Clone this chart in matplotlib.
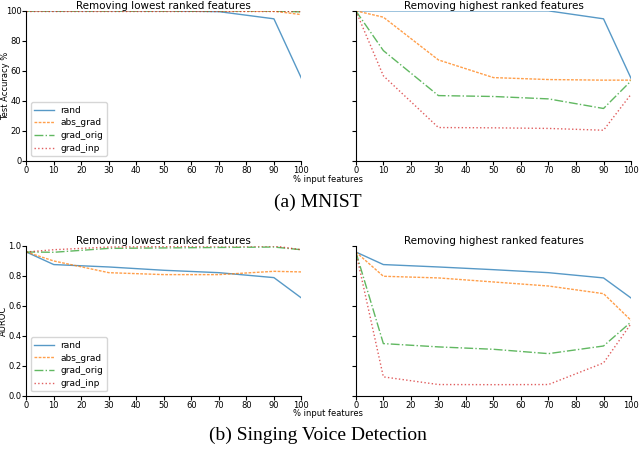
import matplotlib.pyplot as plt

# x positions (% input features removed)
pct = [0, 10, 30, 50, 70, 90, 100]
methods = ["rand", "abs_grad", "grad_orig", "grad_inp"]

# MNIST test accuracy (%)
mnist_low_rand = [100, 100, 100, 100, 99.5, 94.7, 55.0]
mnist_low_abs = [100, 100, 100, 100, 100, 99.8, 97.5]
mnist_low_orig = [100, 100, 100, 100, 100, 100, 99.3]
mnist_low_inp = [100, 100, 100, 100, 100, 100, 100]

mnist_high_rand = [100, 100, 100, 100, 100, 94.7, 55.0]
mnist_high_abs = [100, 95.8, 67.3, 55.5, 54.2, 53.8, 53.8]
mnist_high_orig = [100, 73.5, 43.5, 42.9, 41.3, 34.9, 53.3]
mnist_high_inp = [100, 56.7, 22.2, 22.0, 21.6, 20.4, 44.4]

# Singing voice detection AUROC
svd_low_rand = [0.96, 0.876, 0.86, 0.838, 0.822, 0.789, 0.653]
svd_low_abs = [0.96, 0.90, 0.822, 0.809, 0.809, 0.831, 0.827]
svd_low_orig = [0.96, 0.958, 0.984, 0.987, 0.99, 0.993, 0.975]
svd_low_inp = [0.96, 0.975, 0.993, 0.996, 1.0, 1.0, 0.975]

svd_high_rand = [0.96, 0.876, 0.86, 0.842, 0.822, 0.787, 0.653]
svd_high_abs = [0.96, 0.798, 0.787, 0.76, 0.733, 0.682, 0.504]
svd_high_orig = [0.96, 0.349, 0.327, 0.311, 0.282, 0.333, 0.493]
svd_high_inp = [0.96, 0.127, 0.076, 0.075, 0.076, 0.22, 0.482]

styles = {
    "rand": dict(color="C0", linestyle="-"),
    "abs_grad": dict(color="C1", linestyle=(0, (2, 1))),
    "grad_orig": dict(color="C2", linestyle="-."),
    "grad_inp": dict(color="C3", linestyle=":"),
}

fig = plt.figure(figsize=(6.4, 4.53), dpi=100)

panels = [
    ([0.041, 0.645, 0.430, 0.331], [mnist_low_rand, mnist_low_abs, mnist_low_orig, mnist_low_inp],
     "Removing lowest ranked features", 100, True),
    ([0.556, 0.645, 0.430, 0.331], [mnist_high_rand, mnist_high_abs, mnist_high_orig, mnist_high_inp],
     "Removing highest ranked features", 100, False),
    ([0.041, 0.126, 0.430, 0.331], [svd_low_rand, svd_low_abs, svd_low_orig, svd_low_inp],
     "Removing lowest ranked features", 1.0, True),
    ([0.556, 0.126, 0.430, 0.331], [svd_high_rand, svd_high_abs, svd_high_orig, svd_high_inp],
     "Removing highest ranked features", 1.0, False),
]

axes = []
for rect, series, title, ymax, left in panels:
    ax = fig.add_axes(rect)
    for name, vals in zip(methods, series):
        ax.plot(pct, vals, label=name, linewidth=1.0, alpha=0.75, **styles[name])
    ax.set_xlim(0, 100)
    ax.set_ylim(0, ymax)
    ax.set_xticks(range(0, 101, 10))
    ax.set_title(title, fontsize=7.5, pad=1)
    ax.spines["top"].set_visible(False)
    ax.spines["right"].set_visible(False)
    ax.tick_params(labelsize=6, length=3, pad=1)
    ax.tick_params(axis="y", pad=0.5)
    if not left:
        ax.tick_params(labelleft=False)
    else:
        ax.legend(loc="lower left", fontsize=6.5, handlelength=2.2, borderpad=0.4,
                  labelspacing=0.4, handletextpad=0.7)
    axes.append(ax)

axes[0].set_ylabel("Test Accuracy %", fontsize=6)
axes[2].set_ylabel("AUROC", fontsize=6)
axes[0].yaxis.set_label_coords(-0.058, 0.5)
axes[2].yaxis.set_label_coords(-0.066, 0.5)
axes[0].set_yticks(range(0, 101, 20))
axes[2].set_yticks([0.0, 0.2, 0.4, 0.6, 0.8, 1.0])

fig.text(0.513, 0.604, "% input features", fontsize=6, ha="center", va="center")
fig.text(0.513, 0.087, "% input features", fontsize=6, ha="center", va="center")
fig.text(0.497, 0.554, "(a) MNIST", fontsize=14, ha="center", va="center",
         family="Liberation Serif")
fig.text(0.497, 0.040, "(b) Singing Voice Detection", fontsize=14, ha="center", va="center",
         family="Liberation Serif")

fig.savefig("out.png", dpi=100)
